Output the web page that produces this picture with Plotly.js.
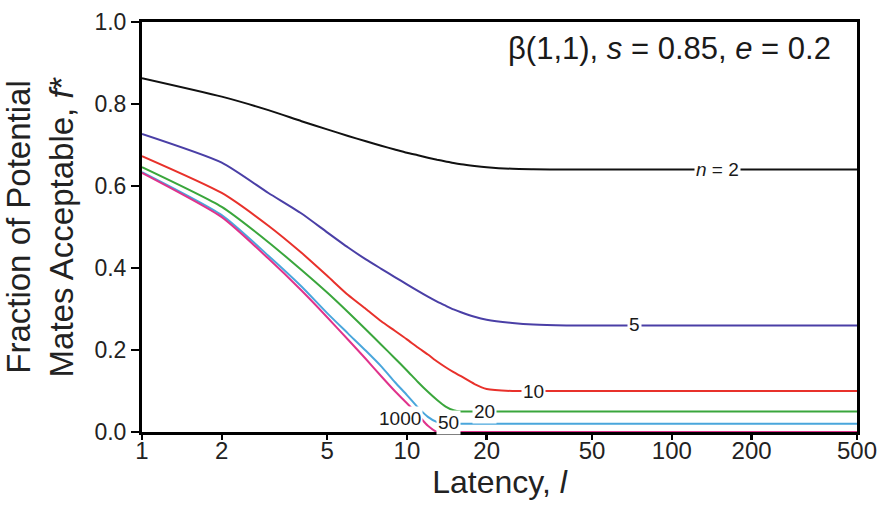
<!DOCTYPE html>
<html>
<head>
<meta charset="utf-8">
<script src="https://cdn.plot.ly/plotly-3.0.1.min.js"></script>
<style>
  html, body { margin: 0; padding: 0; background: #ffffff; }
  #chart { width: 878px; height: 505px; }
</style>
</head>
<body>
<div id="chart"></div>
<script>
// ---- data ----
const latency = [1, 2, 3, 4, 5, 6, 7, 8, 9, 10, 11, 12, 13, 14, 15, 16, 18, 20, 25, 30, 40, 50, 100, 200, 500];

const n2    = [0.863, 0.818, 0.785, 0.758, 0.738, 0.722, 0.709, 0.698, 0.689, 0.681, 0.675, 0.669, 0.664, 0.660, 0.656, 0.653, 0.649, 0.646, 0.642, 0.641, 0.640, 0.640, 0.640, 0.640, 0.640];
const n5    = [0.727, 0.657, 0.583, 0.533, 0.487, 0.450, 0.421, 0.398, 0.378, 0.360, 0.344, 0.330, 0.318, 0.308, 0.299, 0.292, 0.281, 0.274, 0.266, 0.262, 0.260, 0.260, 0.260, 0.260, 0.260];
const n10   = [0.673, 0.583, 0.503, 0.437, 0.381, 0.334, 0.300, 0.270, 0.247, 0.226, 0.206, 0.189, 0.172, 0.158, 0.146, 0.136, 0.117, 0.105, 0.100, 0.100, 0.100, 0.100, 0.100, 0.100, 0.100];
const n20   = [0.646, 0.549, 0.463, 0.395, 0.340, 0.292, 0.250, 0.213, 0.180, 0.150, 0.122, 0.098, 0.078, 0.062, 0.053, 0.050, 0.050, 0.050, 0.050, 0.050, 0.050, 0.050, 0.050, 0.050, 0.050];
const n50   = [0.634, 0.529, 0.430, 0.355, 0.290, 0.240, 0.198, 0.160, 0.122, 0.090, 0.060, 0.037, 0.024, 0.020, 0.020, 0.020, 0.020, 0.020, 0.020, 0.020, 0.020, 0.020, 0.020, 0.020, 0.020];
const n1000 = [0.632, 0.524, 0.423, 0.345, 0.280, 0.225, 0.178, 0.136, 0.100, 0.070, 0.042, 0.015, 0.000, 0.000, 0.000, 0.000, 0.000, 0.000, 0.000, 0.000, 0.000, 0.000, 0.000, 0.000, 0.000];

const seriesNames = ["n = 2", "n = 5", "n = 10", "n = 20", "n = 50", "n = 1000"];
const seriesValues = [n2, n5, n10, n20, n50, n1000];
const labelTexts = ["<i>n</i> = 2", "5", "10", "20", "50", "1000"];

const xTickVals = [1, 2, 5, 10, 20, 50, 100, 200, 500];
const xTickText = ["1", "2", "5", "10", "20", "50", "100", "200", "500"];
const yTickVals = [0, 0.2, 0.4, 0.6, 0.8, 1.0];
const yTickText = ["0.0", "0.2", "0.4", "0.6", "0.8", "1.0"];

// ---- styling ----
const colors = ["#111111", "#4a3fa6", "#e8312b", "#3aa63c", "#4aa6dc", "#e0338c"];
// label positions (latency, fraction)
const labelPos = [[149, 0.641], [72.5, 0.261], [30, 0.100], [19.7, 0.051], [14.3, 0.024], [9.4, 0.034]];

const traces = seriesValues.map((vals, i) => ({
  x: latency,
  y: vals,
  type: "scatter",
  mode: "lines",
  name: seriesNames[i],
  line: { color: colors[i], width: 2, shape: "spline", smoothing: 0.6 },
  hoverinfo: "x+y+name"
}));

const annotations = labelTexts.map((t, i) => ({
  x: Math.log10(labelPos[i][0]),
  y: labelPos[i][1],
  xref: "x", yref: "y",
  text: t,
  showarrow: false,
  font: { family: "Liberation Sans, Arial, sans-serif", size: 19, color: "#1a1a1a" },
  bgcolor: "#ffffff",
  borderpad: 1,
  xanchor: "center", yanchor: "middle"
}));

annotations.push({
  x: 0.967, y: 0.935, xref: "paper", yref: "paper",
  text: "β(1,1), <i>s</i> = 0.85, <i>e</i> = 0.2",
  showarrow: false,
  font: { family: "Liberation Sans, Arial, sans-serif", size: 31, color: "#1a1a1a" },
  xanchor: "right", yanchor: "middle"
});

const xTickFont = { family: "Liberation Sans, Arial, sans-serif", size: 24, color: "#222222" };
const yTickFont = { family: "Liberation Sans, Arial, sans-serif", size: 23, color: "#222222" };
const titleFont = { family: "Liberation Sans, Arial, sans-serif", size: 32, color: "#222222" };
const yTitleFont = { family: "Liberation Sans, Arial, sans-serif", size: 33, color: "#222222" };

const layout = {
  width: 878, height: 505,
  margin: { l: 142, r: 21, t: 22, b: 73 },
  paper_bgcolor: "#ffffff",
  plot_bgcolor: "#ffffff",
  showlegend: false,
  xaxis: {
    type: "log",
    range: [0, Math.log10(500)],
    tickmode: "array",
    tickvals: xTickVals,
    ticktext: xTickText,
    ticks: "outside", ticklen: 5, tickwidth: 2.5, tickcolor: "#000",
    ticklabelstandoff: -10,
    showline: true, linewidth: 3, linecolor: "#000", mirror: true,
    showgrid: false, zeroline: false,
    tickfont: xTickFont,
    title: { text: "Latency, <i>l</i>", font: titleFont, standoff: 0 }
  },
  yaxis: {
    range: [0, 1],
    tickmode: "array",
    tickvals: yTickVals,
    ticktext: yTickText,
    ticks: "outside", ticklen: 8, tickwidth: 2.5, tickcolor: "#000",
    showline: true, linewidth: 3, linecolor: "#000", mirror: true,
    showgrid: false, zeroline: false,
    tickfont: yTickFont,
    title: { text: "Fraction of Potential<br>Mates Acceptable, <i>f</i>*", font: yTitleFont, standoff: 14 }
  },
  annotations: annotations
};

Plotly.newPlot("chart", traces, layout, { displayModeBar: false, staticPlot: true });
</script>
</body>
</html>
